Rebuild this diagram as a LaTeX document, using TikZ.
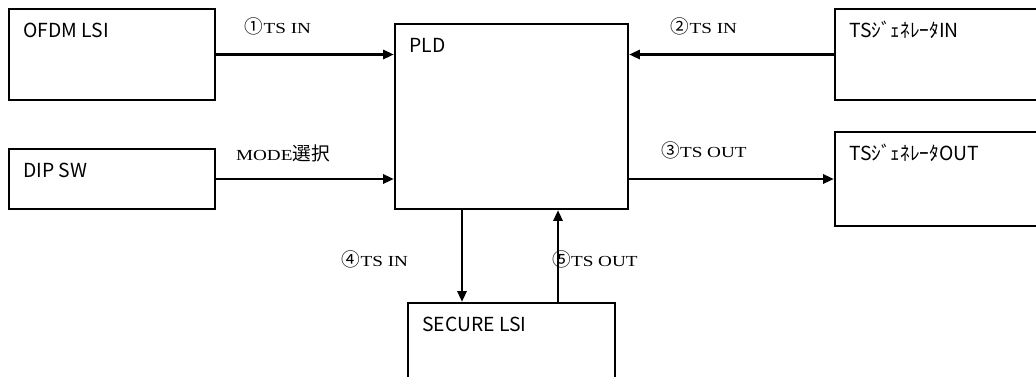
\documentclass[tikz,border=0pt]{standalone}
\usepackage{fontspec}
\setmainfont{Liberation Serif}
\newfontfamily\gothicfont{Noto Sans CJK JP}
\newfontfamily\minchofont[FakeStretch=1.25]{Liberation Serif}
\usetikzlibrary{arrows.meta,positioning,fit}
\newcommand{\jp}[1]{{\gothicfont\fontsize{14}{16}\selectfont #1}}
\tikzset{
  bloco/.style={rectangle, draw=black, line width=1.9pt, inner sep=0pt},
  nome/.style={anchor=base west, inner sep=0pt, xshift=11.5pt, yshift=-22pt,
               font=\gothicfont\fontsize{14.5}{17}\selectfont},
  rotulo/.style={anchor=base, inner sep=0pt, font=\minchofont\fontsize{11.5}{14}\selectfont},
  seta/.style={-{Triangle[length=8pt,width=7pt]}, line width=1.6pt},
}

\begin{document}
\begin{tikzpicture}[x=0.75pt, y=-0.75pt]
  \useasboundingbox (0,0) rectangle (1036,376);
  % blocos
  \node[bloco, fit={(9,9) (215,100)}, label={[nome]north west:OFDM LSI}] (ofdm) {};
  \node[bloco, fit={(9,149) (215,209)}, label={[nome]north west:DIP SW}] (dip) {};
  \node[bloco, fit={(395,24) (628,209)}, label={[nome]north west:PLD}] (pld) {};
  \node[bloco, fit={(835,9) (1045,100)}, label={[nome]north west:TSｼﾞｪﾈﾚｰﾀIN}] (genin) {};
  \node[bloco, fit={(835,132) (1045,226)}, label={[nome]north west:TSｼﾞｪﾈﾚｰﾀOUT}] (genout) {};
  \node[bloco, fit={(408,303) (615,395)}, label={[nome]north west:SECURE LSI}] (sec) {};
  \coordinate (xin) at (462,0);
  \coordinate (xout) at (558,0);
  % setas
  \draw[seta] (ofdm.east) -- (ofdm.east -| pld.west);
  \draw[seta] (dip.east) -- (dip.east -| pld.west);
  \draw[seta] (genin.west) -- (genin.west -| pld.east);
  \draw[seta] (pld.east |- genout.west) -- (genout.west);
  \draw[seta] (pld.south -| xin) -- (sec.north -| xin);
  \draw[seta] (sec.north -| xout) -- (pld.south -| xout);
  % rotulos
  \node[rotulo] (r1) at (278,33) {\jp{①}TS IN};
  \node[rotulo] (rmode) at (283,160) {MODE\jp{選択}};
  \node[rotulo] (r2) at (704,33) {\jp{②}TS IN};
  \node[rotulo] (r3) at (704,157) {\jp{③}TS OUT};
  \node[rotulo] (r4) at (375,266) {\jp{④}TS IN};
  \node[rotulo] (r5) at (595,266) {\jp{⑤}TS OUT};
\end{tikzpicture}
\end{document}
